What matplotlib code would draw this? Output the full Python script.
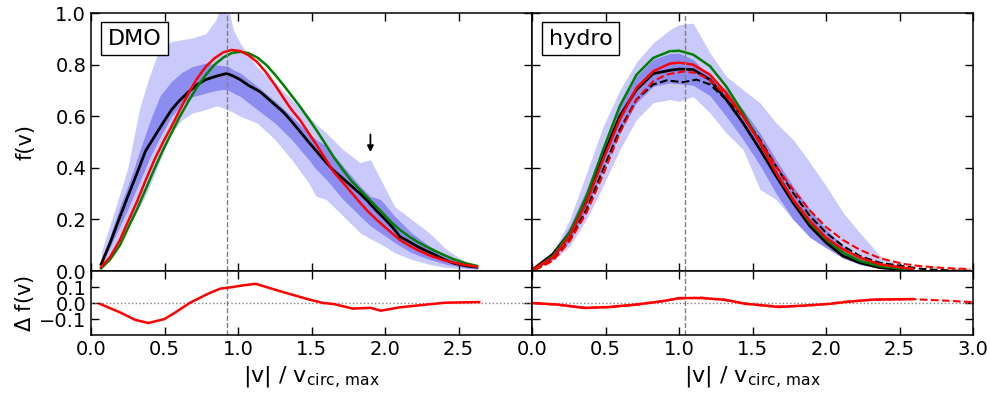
import numpy as np
import matplotlib
matplotlib.use('Agg')
import matplotlib.pyplot as plt

# --- DMO panel ---
dmo_x = [0.068, 0.13, 0.196, 0.25, 0.313, 0.37, 0.43, 0.49, 0.547, 0.6, 0.664, 0.72, 0.78,
         0.84, 0.9, 0.957, 1.014, 1.07, 1.13, 1.19, 1.25, 1.31, 1.364, 1.422, 1.48, 1.54,
         1.6, 1.649, 1.71, 1.77, 1.83, 1.875, 1.94, 2.0, 2.05, 2.102, 2.16, 2.22, 2.28,
         2.329, 2.4, 2.47, 2.55, 2.624]
dmo_red = [0.015, 0.055, 0.12, 0.19, 0.27, 0.35, 0.43, 0.5, 0.56, 0.62, 0.69, 0.745, 0.792,
           0.825, 0.848, 0.857, 0.853, 0.837, 0.81, 0.77, 0.722, 0.67, 0.625, 0.585, 0.535,
           0.483, 0.43, 0.385, 0.345, 0.305, 0.265, 0.236, 0.2, 0.17, 0.145, 0.12, 0.1,
           0.082, 0.066, 0.055, 0.042, 0.032, 0.023, 0.017]
dmo_green = [0.01, 0.045, 0.1, 0.165, 0.24, 0.315, 0.395, 0.47, 0.535, 0.595, 0.66, 0.712,
             0.76, 0.8, 0.828, 0.845, 0.85, 0.845, 0.828, 0.8, 0.762, 0.72, 0.68, 0.637, 0.59,
             0.54, 0.487, 0.443, 0.395, 0.35, 0.315, 0.288, 0.25, 0.215, 0.185, 0.159, 0.135,
             0.113, 0.095, 0.081, 0.062, 0.045, 0.03, 0.02]

dmo_med_x = [0.068, 0.13, 0.196, 0.25, 0.313, 0.37, 0.43, 0.49, 0.547, 0.6, 0.664, 0.72,
             0.78, 0.85, 0.923, 0.97, 1.014, 1.07, 1.15, 1.25, 1.31, 1.364, 1.422, 1.48, 1.54,
             1.6, 1.649, 1.71, 1.77, 1.83, 1.875, 1.94, 2.0, 2.05, 2.102, 2.16, 2.22, 2.28,
             2.329, 2.4, 2.47, 2.55, 2.624]
dmo_median = [0.026, 0.11, 0.21, 0.29, 0.38, 0.465, 0.52, 0.575, 0.625, 0.66, 0.695, 0.722,
              0.742, 0.755, 0.766, 0.755, 0.742, 0.72, 0.695, 0.645, 0.615, 0.58, 0.54, 0.5,
              0.46, 0.42, 0.39, 0.36, 0.33, 0.3, 0.275, 0.235, 0.2, 0.17, 0.133, 0.115, 0.095,
              0.078, 0.066, 0.045, 0.03, 0.02, 0.015]

dmo_band_x = [0.068, 0.196, 0.25, 0.287, 0.333, 0.4, 0.47, 0.547, 0.617, 0.687, 0.78, 0.85,
              0.885, 0.93, 0.967, 1.014, 1.13, 1.25, 1.364, 1.48, 1.53, 1.6, 1.715, 1.83, 1.9,
              1.97, 2.065, 2.18, 2.3, 2.416, 2.556, 2.63]
dmo_light_hi = [0.07, 0.3, 0.4, 0.508, 0.637, 0.76, 0.87, 0.89, 0.897, 0.903, 0.92, 0.974,
                1.03, 1.03, 0.935, 0.884, 0.79, 0.73, 0.665, 0.6, 0.57, 0.535, 0.47, 0.42,
                0.432, 0.355, 0.25, 0.2, 0.148, 0.084, 0.032, 0.019]
dmo_light_lo = [0.019, 0.12, 0.17, 0.205, 0.25, 0.33, 0.43, 0.535, 0.585, 0.612, 0.626, 0.64,
                0.635, 0.625, 0.615, 0.6, 0.574, 0.51, 0.432, 0.342, 0.29, 0.277, 0.213,
                0.148, 0.125, 0.105, 0.071, 0.045, 0.026, 0.013, 0.008, 0.006]
dmo_dark_hi = [0.032, 0.25, 0.33, 0.39, 0.47, 0.58, 0.68, 0.735, 0.77, 0.792, 0.806, 0.8,
               0.797, 0.794, 0.78, 0.768, 0.716, 0.66, 0.6, 0.535, 0.51, 0.484, 0.406, 0.329,
               0.29, 0.277, 0.213, 0.148, 0.097, 0.058, 0.026, 0.019]
dmo_dark_lo = [0.019, 0.174, 0.24, 0.29, 0.35, 0.44, 0.52, 0.6, 0.645, 0.675, 0.69, 0.7,
               0.703, 0.703, 0.69, 0.677, 0.626, 0.574, 0.51, 0.432, 0.395, 0.355, 0.277,
               0.213, 0.175, 0.148, 0.11, 0.071, 0.045, 0.026, 0.012, 0.009]

dmo_res_x = [0.06, 0.2, 0.3, 0.39, 0.5, 0.58, 0.67, 0.8, 0.88, 0.95, 1.03, 1.12, 1.3, 1.49,
             1.58, 1.65, 1.78, 1.9, 1.97, 2.1, 2.32, 2.41, 2.64]
dmo_res = [-0.005, -0.06, -0.105, -0.125, -0.1, -0.055, 0.0, 0.06, 0.09, 0.098, 0.11, 0.12,
           0.07, 0.02, 0.0, -0.006, -0.035, -0.03, -0.048, -0.027, -0.006, 0.002, 0.006]

dmo_vpeak = 0.923

# --- hydro panel ---
hyd_x = [0.0, 0.14, 0.256, 0.37, 0.483, 0.596, 0.71, 0.823, 0.936, 1.0, 1.095, 1.21, 1.32,
         1.435, 1.55, 1.66, 1.775, 1.89, 2.0, 2.115, 2.23, 2.365, 2.52, 2.59]
hyd_median = [0.004, 0.065, 0.148, 0.277, 0.445, 0.6, 0.703, 0.765, 0.778, 0.783, 0.781, 0.742,
              0.665, 0.574, 0.471, 0.368, 0.265, 0.174, 0.11, 0.058, 0.032, 0.013, 0.006, 0.004]
hyd_red = [0.004, 0.052, 0.135, 0.265, 0.432, 0.587, 0.71, 0.774, 0.804, 0.808, 0.8, 0.761,
           0.69, 0.6, 0.497, 0.381, 0.277, 0.194, 0.129, 0.084, 0.052, 0.026, 0.013, 0.009]
hyd_green = [0.0, 0.058, 0.148, 0.29, 0.47, 0.639, 0.761, 0.826, 0.852, 0.854, 0.839, 0.794,
             0.716, 0.613, 0.497, 0.381, 0.277, 0.187, 0.123, 0.071, 0.039, 0.019, 0.009, 0.006]
hyd_light_hi = [0.004, 0.07, 0.2, 0.38, 0.56, 0.7, 0.81, 0.884, 0.935, 0.955, 0.961, 0.845,
                0.755, 0.703, 0.652, 0.574, 0.51, 0.42, 0.33, 0.226, 0.148, 0.06, 0.015, 0.006]
hyd_light_lo = [0.0, 0.04, 0.097, 0.2, 0.33, 0.47, 0.587, 0.652, 0.665, 0.658, 0.677, 0.613,
                0.535, 0.471, 0.316, 0.277, 0.2, 0.14, 0.097, 0.058, 0.032, 0.012, 0.004, 0.002]
hyd_dark_hi = [0.004, 0.065, 0.174, 0.316, 0.484, 0.639, 0.755, 0.82, 0.843, 0.845, 0.82, 0.755,
               0.703, 0.626, 0.535, 0.432, 0.329, 0.239, 0.161, 0.097, 0.052, 0.026, 0.009, 0.006]
hyd_dark_lo = [0.0, 0.045, 0.116, 0.239, 0.394, 0.535, 0.652, 0.716, 0.729, 0.726, 0.72, 0.68,
               0.6, 0.51, 0.41, 0.3, 0.2, 0.13, 0.09, 0.05, 0.025, 0.01, 0.004, 0.002]

hyd2_x = [0.018, 0.14, 0.256, 0.37, 0.483, 0.596, 0.71, 0.823, 0.914, 1.027, 1.118, 1.21, 1.32,
          1.435, 1.55, 1.66, 1.775, 1.89, 2.0, 2.115, 2.23, 2.365, 2.52, 2.64, 2.77, 2.86, 2.98]
hyd2_median = [0.004, 0.045, 0.123, 0.239, 0.394, 0.548, 0.665, 0.723, 0.739, 0.732, 0.742,
               0.723, 0.665, 0.6, 0.51, 0.406, 0.303, 0.213, 0.148, 0.097, 0.058, 0.032, 0.019,
               0.009, 0.004, 0.002, 0.001]
hyd2_red = [0.004, 0.039, 0.116, 0.226, 0.374, 0.535, 0.665, 0.735, 0.762, 0.773, 0.768, 0.74,
            0.68, 0.6, 0.505, 0.405, 0.315, 0.235, 0.17, 0.12, 0.082, 0.05, 0.028, 0.019,
            0.013, 0.01, 0.008]

hyd_res_x = [0.0, 0.18, 0.36, 0.52, 0.7, 0.88, 1.0, 1.15, 1.31, 1.45, 1.52, 1.68, 1.86, 2.02,
             2.13, 2.31, 2.59]
hyd_res = [0.0, -0.01, -0.031, -0.025, -0.01, 0.01, 0.031, 0.031, 0.021, -0.005, -0.01,
           -0.025, -0.015, -0.006, 0.006, 0.021, 0.025]
hyd2_res_x = [0.02, 0.18, 0.36, 0.52, 0.7, 0.88, 1.0, 1.15, 1.31, 1.45, 1.52, 1.68, 1.86, 2.02,
              2.13, 2.31, 2.59, 2.81, 2.99]
hyd2_res = [0.0, -0.012, -0.03, -0.026, -0.012, 0.012, 0.028, 0.034, 0.018, -0.002, -0.012,
            -0.022, -0.018, -0.004, 0.008, 0.02, 0.024, 0.015, 0.006]

hyd_vpeak = 1.04

xticks = [0.0, 0.5, 1.0, 1.5, 2.0, 2.5, 3.0]

plt.rcParams['mathtext.default'] = 'regular'
plt.rcParams['font.size'] = 14

light = '#c9c9fb'
dark = '#8d8df1'

fig, axes = plt.subplots(2, 2, figsize=(9.9, 3.96), dpi=100,
                         gridspec_kw={'height_ratios': [258, 64]})
fig.subplots_adjust(left=0.092, right=0.983, top=0.967, bottom=0.154, wspace=0, hspace=0)

for ax in axes.flat:
    ax.set_xlim(0, 3.0)
    ax.tick_params(direction='in', top=True, right=True, length=6, width=1, labelsize=14)
    for sp in ax.spines.values():
        sp.set_linewidth(1.1)
    ax.set_xticks(xticks)

# top panels
for ax, vp in [(axes[0, 0], dmo_vpeak), (axes[0, 1], hyd_vpeak)]:
    ax.set_ylim(0, 1.0)
    ax.set_yticks([0.0, 0.2, 0.4, 0.6, 0.8, 1.0])
    ax.set_xticklabels([])
    ax.axvline(vp, color='gray', ls='--', lw=1, zorder=5)

ax = axes[0, 0]
ax.fill_between(dmo_band_x, dmo_light_lo, dmo_light_hi, color=light, lw=0)
ax.fill_between(dmo_band_x, dmo_dark_lo, dmo_dark_hi, color=dark, lw=0)
ax.plot(dmo_med_x, dmo_median, color='black', lw=2)
ax.plot(dmo_x, dmo_green, color='green', lw=1.8)
ax.plot(dmo_x, dmo_red, color='red', lw=1.8)
ax.annotate('', xy=(1.9, 0.45), xytext=(1.9, 0.54),
            arrowprops=dict(arrowstyle='-|>', color='black', lw=1.3, mutation_scale=9))
ax.text(0.038, 0.94, 'DMO', transform=ax.transAxes, va='top', ha='left', fontsize=16,
        bbox=dict(facecolor='white', edgecolor='black', boxstyle='square,pad=0.3'))
ax.set_ylabel('f(v)', fontsize=15)
ax.yaxis.set_label_coords(-0.125, 0.5)

ax = axes[0, 1]
ax.fill_between(hyd_x, hyd_light_lo, hyd_light_hi, color=light, lw=0)
ax.fill_between(hyd_x, hyd_dark_lo, hyd_dark_hi, color=dark, lw=0)
ax.plot(hyd_x, hyd_median, color='black', lw=2)
ax.plot(hyd2_x, hyd2_median, color='black', lw=1.5, ls='--')
ax.plot(hyd2_x, hyd2_red, color='red', lw=1.5, ls='--')
ax.plot(hyd_x, hyd_green, color='green', lw=1.8)
ax.plot(hyd_x, hyd_red, color='red', lw=1.8)
ax.set_yticklabels([])
ax.text(0.038, 0.94, 'hydro', transform=ax.transAxes, va='top', ha='left', fontsize=16,
        bbox=dict(facecolor='white', edgecolor='black', boxstyle='square,pad=0.3'))

# residual panels
xlabel = r'|v| / v$_{\rm circ,\,max}$'
for ax, vp in [(axes[1, 0], dmo_vpeak), (axes[1, 1], hyd_vpeak)]:
    ax.set_ylim(-0.2, 0.2)
    ax.set_yticks([-0.1, 0.0, 0.1])
    ax.axhline(0, color='gray', ls=':', lw=1)
    ax.axvline(vp, color='gray', ls='--', lw=1)
    ax.set_xlabel(xlabel, fontsize=16)

ax = axes[1, 0]
ax.plot(dmo_res_x, dmo_res, color='red', lw=1.8)
ax.set_xticklabels(['0.0', '0.5', '1.0', '1.5', '2.0', '2.5', ''])
ax.set_ylabel(r'$\Delta$ f(v)', fontsize=15)
ax.yaxis.set_label_coords(-0.125, 0.5)

ax = axes[1, 1]
ax.plot(hyd2_res_x, hyd2_res, color='red', lw=1.5, ls='--')
ax.plot(hyd_res_x, hyd_res, color='red', lw=1.8)
ax.set_yticklabels([])

plt.savefig('out.png', dpi=100)
